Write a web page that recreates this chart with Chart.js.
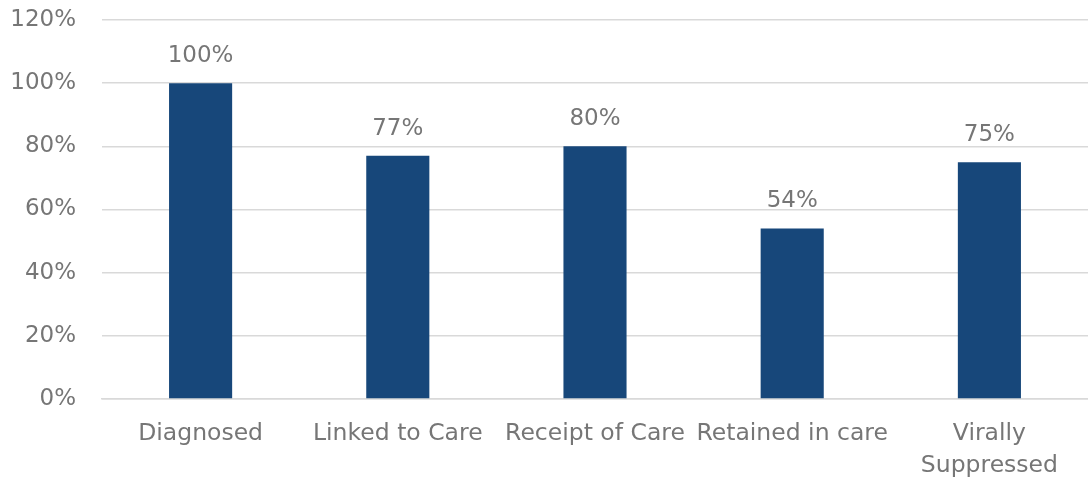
<!DOCTYPE html>
<html><head><meta charset="utf-8">
<script src="https://cdn.jsdelivr.net/npm/chart.js@4"></script>
<style>html,body{margin:0;padding:0;background:#fff}#wrap{width:1088px;height:478px}</style>
</head><body><div id="wrap"><canvas id="c"></canvas></div>
<script>
const categories = ['Diagnosed', 'Linked to Care', 'Receipt of Care', 'Retained in care', ['Virally', 'Suppressed']];
const values = [100, 77, 80, 54, 75];
const valueLabels = ['100%', '77%', '80%', '54%', '75%'];
const yTicks = [0, 20, 40, 60, 80, 100, 120];

const FONT = "'DejaVu Sans', Verdana, sans-serif";
const GRAY = '#767676';

const labelPlugin = {
  id: 'valLabels',
  afterDatasetsDraw(chart) {
    const ctx = chart.ctx;
    const meta = chart.getDatasetMeta(0);
    ctx.save();
    ctx.fillStyle = GRAY;
    ctx.font = '23px ' + FONT;
    ctx.textAlign = 'center';
    ctx.textBaseline = 'middle';
    meta.data.forEach((bar, i) => {
      ctx.fillText(valueLabels[i], bar.x, bar.y - 27);
    });
    ctx.restore();
  }
};

new Chart(document.getElementById('c'), {
  type: 'bar',
  data: {
    labels: categories,
    datasets: [{
      data: values,
      backgroundColor: '#17477A',
      barPercentage: 0.64,
      categoryPercentage: 0.5
    }]
  },
  options: {
    responsive: true,
    maintainAspectRatio: false,
    animation: false,
    layout: { padding: { top: 20, right: 0, left: 0, bottom: 0 } },
    plugins: { legend: { display: false }, tooltip: { enabled: false } },
    scales: {
      y: {
        min: 0, max: 120,
        afterBuildTicks(scale) { scale.ticks = yTicks.map(v => ({ value: v })); },
        afterFit(scale) { scale.width = 102; scale.paddingTop = 0; scale.paddingBottom = 0; },
        ticks: {
          color: GRAY,
          font: { family: FONT, size: 23 },
          padding: 26,
          callback: v => v + '%'
        },
        grid: { color: '#D9D9D9', lineWidth: 1.5, drawTicks: false },
        border: { display: false }
      },
      x: {
        afterFit(scale) { scale.height = 79; scale.paddingLeft = 0; scale.paddingRight = 0; },
        ticks: {
          color: GRAY,
          font: { family: FONT, size: 23.5, lineHeight: 1.35 },
          padding: 19,
          maxRotation: 0,
          autoSkip: false
        },
        grid: { display: false, drawTicks: false },
        border: { color: '#D9D9D9', width: 1.5 }
      }
    }
  },
  plugins: [labelPlugin]
});
</script>
</body></html>
